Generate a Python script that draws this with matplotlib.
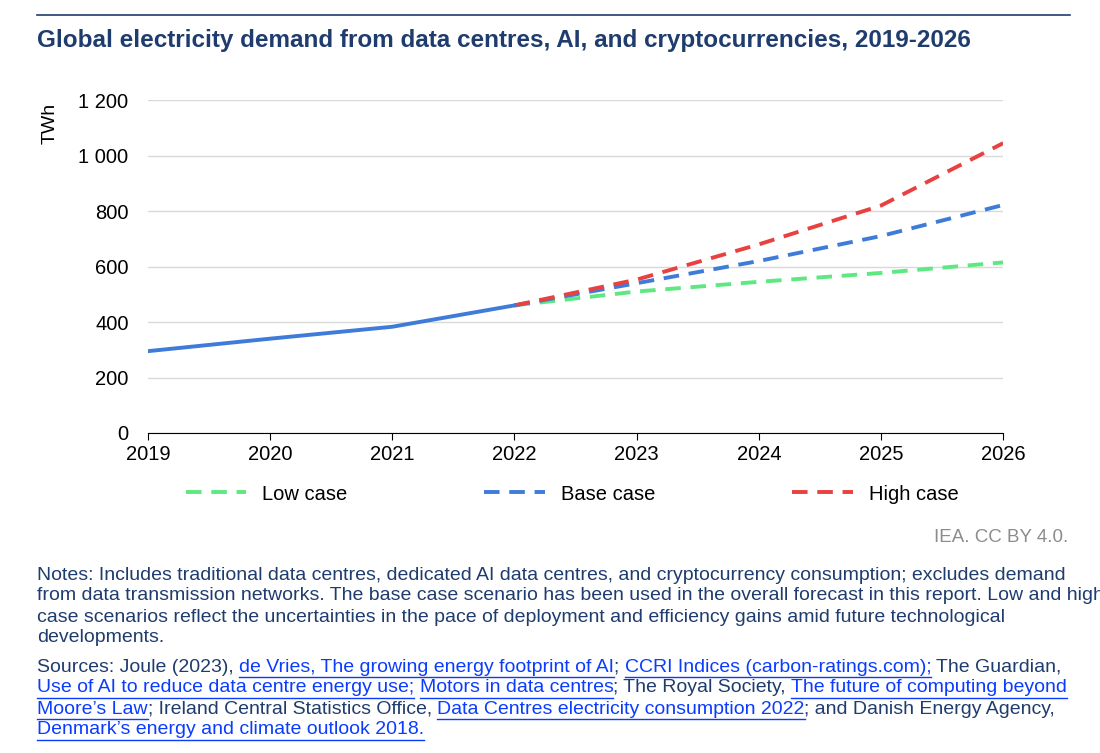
import matplotlib
matplotlib.use("Agg")
import matplotlib.pyplot as plt
from matplotlib.lines import Line2D

plt.rcParams['font.family'] = ['Liberation Sans', 'DejaVu Sans']

years_hist = [2019, 2020, 2021, 2022]
hist = [295, 340, 383, 460]
years_fc = [2022, 2023, 2024, 2025, 2026]
low = [460, 510, 545, 577, 615]
base = [460, 540, 620, 710, 822]
high = [460, 553, 680, 820, 1045]
yticks = [0, 200, 400, 600, 800, 1000, 1200]
ytick_labels = ["0", "200", "400", "600", "800", "1 000", "1 200"]

GREEN = "#5ee882"
BLUE = "#3f7bd8"
RED = "#e8413f"
NAVY = "#1f3c6e"
LINK = "#0a3cff"

fig = plt.figure(figsize=(11, 7.53), dpi=100)
ax = fig.add_axes([0.1345, 0.425, 0.7775, 0.442])

ax.plot(years_fc, low, color=GREEN, lw=2.8, dashes=(4, 2.5))
ax.plot(years_fc, base, color=BLUE, lw=2.8, dashes=(4, 2.5))
ax.plot(years_fc, high, color=RED, lw=2.8, dashes=(4, 2.5))
ax.plot(years_hist, hist, color=BLUE, lw=2.8)

ax.set_xlim(2019, 2026)
ax.set_ylim(0, 1200)
ax.set_yticks(yticks)
ax.set_yticklabels(ytick_labels)
ax.set_xticks(range(2019, 2027))
ax.grid(axis='y', color='#d9d9d9', lw=1)
ax.set_axisbelow(True)
for s in ['top', 'right', 'left']:
    ax.spines[s].set_visible(False)
ax.spines['bottom'].set_color('black')
ax.tick_params(axis='y', length=0, labelsize=14.5, pad=14)
ax.tick_params(axis='x', length=5, labelsize=14.5, direction='out')
ax.set_ylabel("TWh", fontsize=14)
ax.yaxis.set_label_coords(-0.105, 0.93)

handles = [Line2D([], [], color=c, lw=2.8, dashes=(4, 2.5)) for c in (GREEN, BLUE, RED)]
fig.legend(handles, ["Low case", "Base case", "High case"], loc='center',
           bbox_to_anchor=(0.52, 1 - 494 / 753), ncol=3, frameon=False,
           fontsize=14.5, columnspacing=6.8, handlelength=3.0)

fig.add_artist(Line2D([37 / 1100, 1070 / 1100], [1 - 15 / 753] * 2, color=NAVY, lw=1.2))
fig.text(37 / 1100, 1 - 40 / 753, "Global electricity demand from data centres, AI, and cryptocurrencies, 2019-2026",
         fontsize=17.5, fontweight='bold', color=NAVY, va='center')
fig.text(1068 / 1100, 1 - 538 / 753, "IEA. CC BY 4.0.", fontsize=13.5, color='#8c8c8c',
         ha='right', va='center')

notes = [
    "Notes: Includes traditional data centres, dedicated AI data centres, and cryptocurrency consumption; excludes demand",
    "from data transmission networks. The base case scenario has been used in the overall forecast in this report. Low and high",
    "case scenarios reflect the uncertainties in the pace of deployment and efficiency gains amid future technological",
    "developments.",
]
for i, line in enumerate(notes):
    fig.text(37 / 1100, 1 - (575 + i * 21) / 753, line, fontsize=14, color=NAVY, va='center')

sources = [
    [("Sources: Joule (2023), ", False), ("de Vries, The growing energy footprint of AI", True), ("; ", False),
     ("CCRI Indices (carbon-ratings.com);", True), (" The Guardian,", False)],
    [("Use of AI to reduce data centre energy use;", True), (" ", False), ("Motors in data centres", True),
     ("; The Royal Society, ", False), ("The future of computing beyond", True)],
    [("Moore\u2019s Law", True), ("; Ireland Central Statistics Office, ", False),
     ("Data Centres electricity consumption 2022", True), ("; and Danish Energy Agency,", False)],
    [("Denmark\u2019s energy and climate outlook 2018.", True)],
]
renderer = fig.canvas.get_renderer()
for i, parts in enumerate(sources):
    y = 1 - (667 + i * 21) / 753
    x = 37 / 1100
    for txt, link in parts:
        t = fig.text(x, y, txt, fontsize=14, color=LINK if link else NAVY, va='center')
        bb = t.get_window_extent(renderer)
        x1 = bb.x1 / fig.bbox.width
        if link:
            uy = y - 9.5 / 753
            fig.add_artist(Line2D([x, x1], [uy, uy], color=LINK, lw=1))
        x = x1

fig.savefig("out.png", dpi=100)
